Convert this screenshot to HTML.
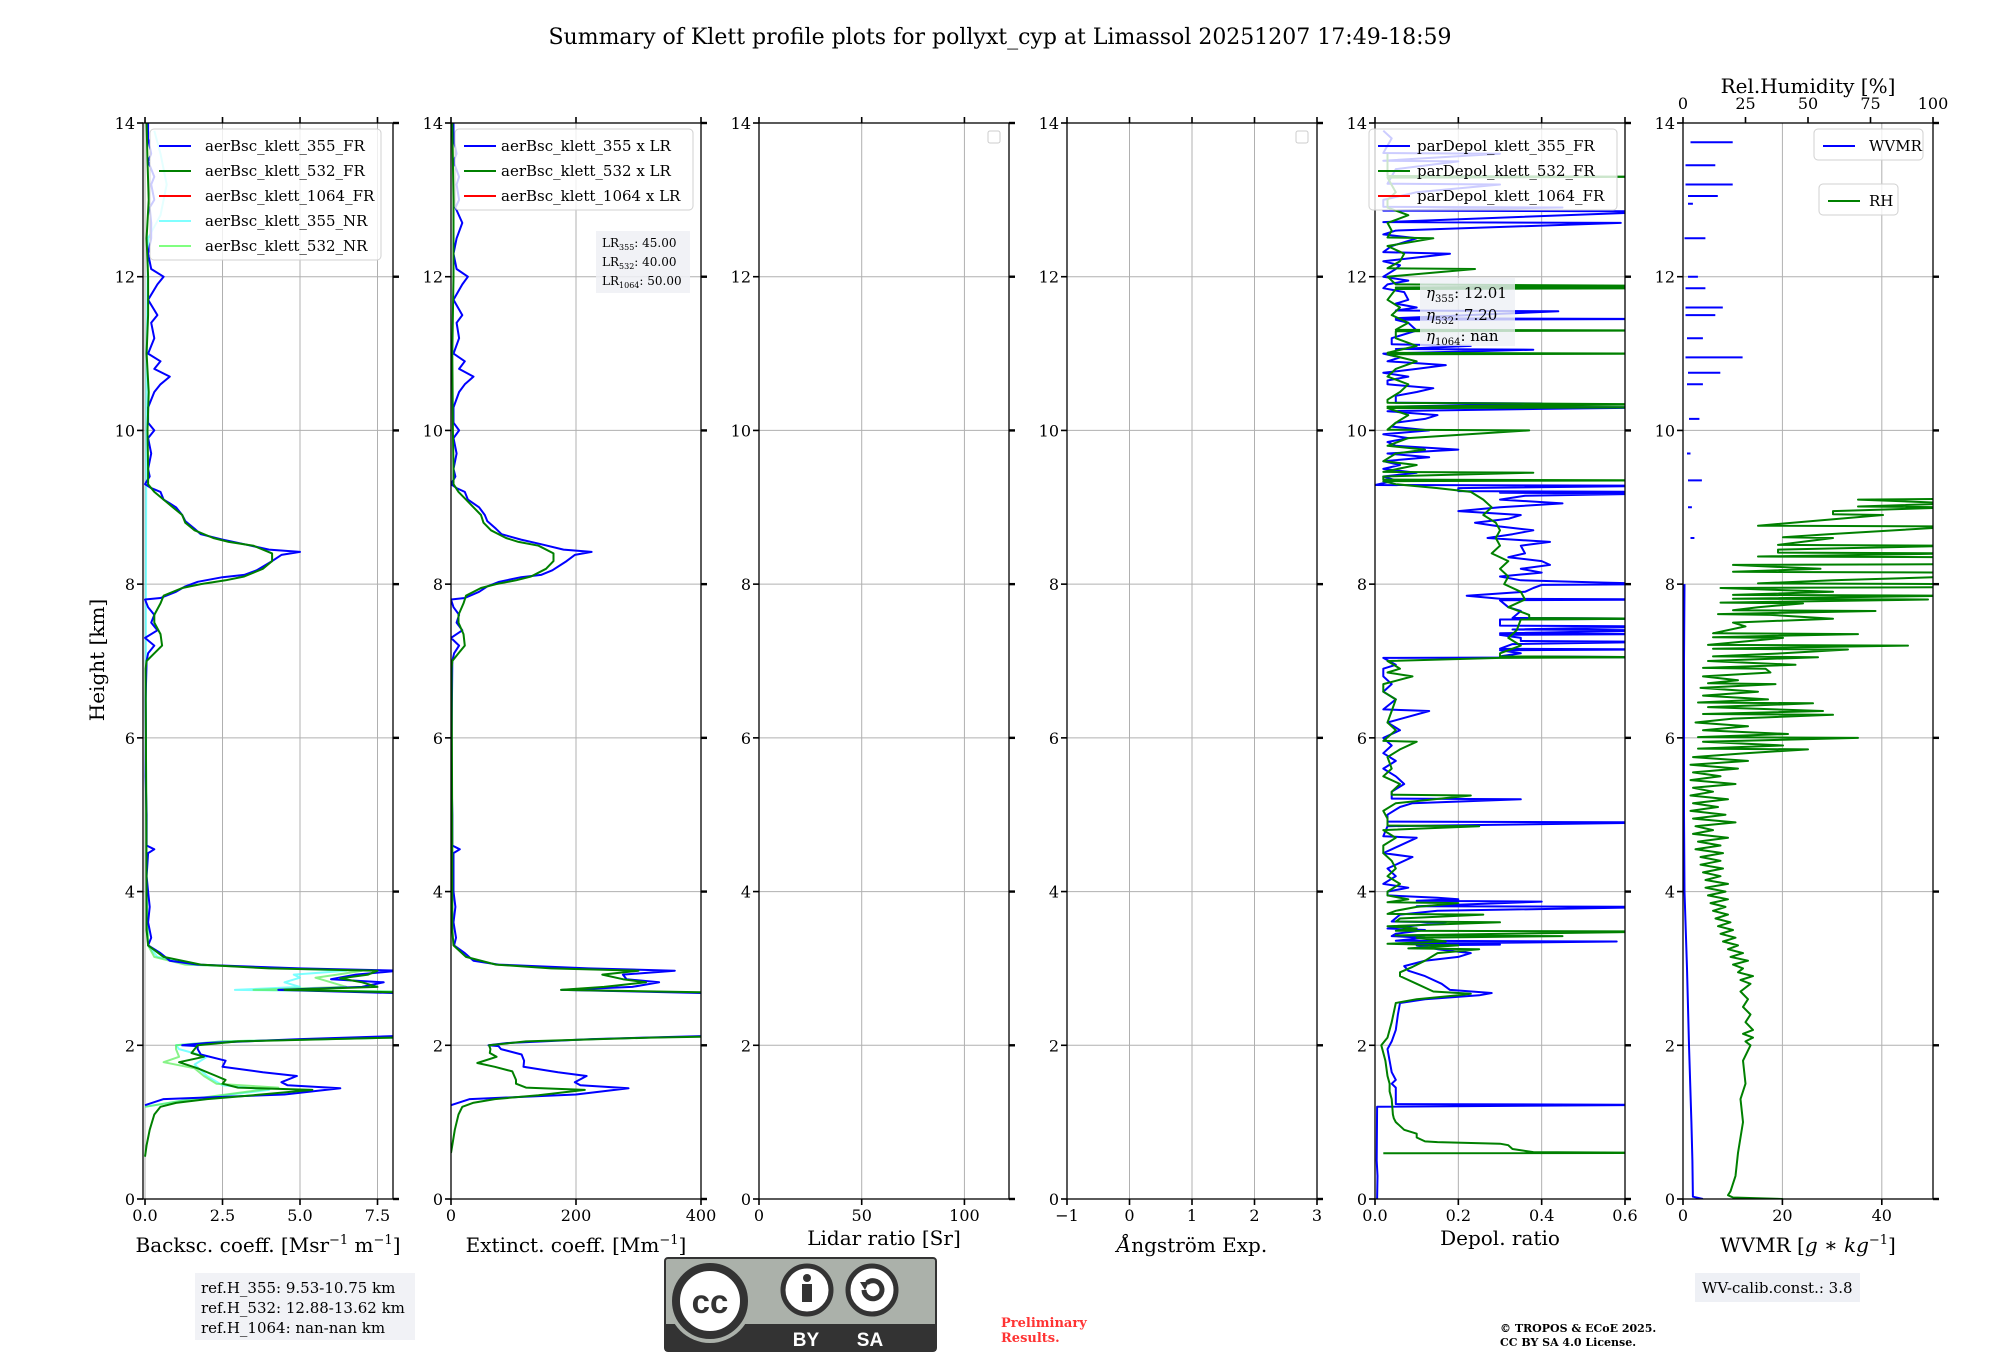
<!DOCTYPE html>
<html><head><meta charset="utf-8">
<style>
html,body{margin:0;padding:0;background:#fff;}
svg{display:block;font-family:"DejaVu Serif","Liberation Serif",serif;}
</style></head>
<body>
<svg id="fig" width="2000" height="1360" viewBox="0 0 2000 1360" xmlns="http://www.w3.org/2000/svg">
<rect width="2000" height="1360" fill="#fff"/>
<text x="1000" y="44" font-size="22" text-anchor="middle">Summary of Klett profile plots for pollyxt_cyp at Limassol 20251207 17:49-18:59</text>
<g id="panels"></g>
<text transform="translate(104,660) rotate(-90)" font-size="20" text-anchor="middle">Height [km]</text>

<g>
<rect x="195" y="1273" width="220" height="67" fill="#eef0f5" opacity="0.85"/>
<text x="201" y="1293" font-size="15">ref.H_355: 9.53-10.75 km</text>
<text x="201" y="1313" font-size="15">ref.H_532: 12.88-13.62 km</text>
<text x="201" y="1333" font-size="15">ref.H_1064: nan-nan km</text>
</g>

<g>
<rect x="665" y="1258" width="271" height="93" rx="3" fill="#abb1aa" stroke="#333" stroke-width="2"/>
<rect x="665" y="1324" width="271" height="27" fill="#333"/>
<circle cx="710" cy="1301" r="42" fill="#abb1aa"/>
<circle cx="710" cy="1301" r="34" fill="#fff" stroke="#333" stroke-width="8"/>
<text x="710" y="1313" font-family="Liberation Sans, sans-serif" font-weight="bold" font-size="33" text-anchor="middle" fill="#333">cc</text>
<circle cx="807" cy="1290" r="24" fill="#fff" stroke="#333" stroke-width="5"/>
<circle cx="807" cy="1278" r="4" fill="#333"/>
<rect x="802" y="1284" width="10" height="18" fill="#333"/>
<circle cx="872" cy="1290" r="24" fill="#fff" stroke="#333" stroke-width="5"/>
<path d="M864 1290 a9 9 0 1 0 3 -7" fill="none" stroke="#333" stroke-width="5"/>
<path d="M860 1282 l9 0 l-4 8 z" fill="#333"/>
<text x="806" y="1346" font-family="Liberation Sans, sans-serif" font-weight="bold" font-size="19" text-anchor="middle" fill="#fff">BY</text>
<text x="870" y="1346" font-family="Liberation Sans, sans-serif" font-weight="bold" font-size="19" text-anchor="middle" fill="#fff">SA</text>
</g>

<g fill="#ff3333" font-weight="bold" font-size="13">
<text x="1001" y="1327">Preliminary</text>
<text x="1001" y="1342">Results.</text>
</g>
<g font-weight="bold" font-size="11">
<text x="1500" y="1332">© TROPOS &amp; ECoE 2025.</text>
<text x="1500" y="1346">CC BY SA 4.0 License.</text>
</g>
<g>
<rect x="1695" y="1273" width="165" height="29" fill="#eef0f5"/>
<text x="1702" y="1293" font-size="15">WV-calib.const.: 3.8</text>
</g>
</svg>
<script>
// ---------- data ----------
const heightTicks = [0,2,4,6,8,10,12,14];
const bscTicks = [0,2.5,5,7.5];
const bscTickLabels = ["0.0","2.5","5.0","7.5"];
const extTicks = [0,200,400];
const lrTicks = [0,50,100];
const angTicks = [-1,0,1,2,3];
const angTickLabels = ["\u22121","0","1","2","3"];
const depTicks = [0,0.2,0.4,0.6];
const depTickLabels = ["0.0","0.2","0.4","0.6"];
const wvTicks = [0,20,40];
const rhTicks = [0,25,50,75,100];

const bsc355FR = [[1.22,0],[1.3,0.6],[1.36,4.5],[1.44,6.3],[1.48,4.6],[1.52,4.4],[1.6,4.9],[1.65,3.8],[1.72,2.5],[1.8,2.6],[1.88,1.8],[1.95,1.7],[1.99,1.7],[2.0,1.2],[2.03,2.0],[2.08,5.0],[2.12,8.0],[2.15,12],[2.65,12],[2.68,8.0],[2.72,4.3],[2.76,7.0],[2.82,7.7],[2.86,6.0],[2.92,6.8],[2.97,8.2],[3.0,5.0],[3.05,1.7],[3.1,0.8],[3.2,0.5],[3.3,0.1],[3.4,0.2],[3.6,0.1],[3.8,0.15],[4.0,0.1],[4.2,0.05],[4.5,0.1],[4.55,0.3],[4.6,0.05],[5.0,0.05],[5.5,0.02],[6.0,0.03],[6.5,0.02],[7.0,0.05],[7.1,0.1],[7.2,0.3],[7.3,0.0],[7.4,0.4],[7.5,0.2],[7.6,0.3],[7.7,0.1],[7.8,0.0],[7.82,0.5],[7.9,1.0],[7.97,1.3],[8.03,1.7],[8.09,2.5],[8.12,3.2],[8.18,3.6],[8.3,4.1],[8.38,4.4],[8.42,5.0],[8.45,4.0],[8.52,3.2],[8.58,2.5],[8.65,1.8],[8.72,1.6],[8.82,1.3],[8.9,1.2],[9.0,1.0],[9.05,0.8],[9.1,0.6],[9.2,0.5],[9.25,0.2],[9.3,0.0],[9.4,0.15],[9.5,0.1],[9.7,0.2],[9.9,0.1],[10.0,0.3],[10.1,0.1],[10.3,0.1],[10.5,0.3],[10.6,0.5],[10.7,0.8],[10.8,0.3],[10.9,0.5],[11.0,0.1],[11.2,0.3],[11.4,0.2],[11.5,0.4],[11.7,0.1],[11.9,0.4],[12.0,0.6],[12.1,0.2],[12.3,0.1],[12.5,0.2],[12.7,0.2],[12.9,0.15],[13.0,0.3],[13.2,0.2],[13.3,0.3],[13.5,0.1],[13.6,0.2],[13.8,0.1],[14.0,0.1]];
const bsc532FR = [[0.55,0],[0.7,0.05],[0.9,0.15],[1.1,0.3],[1.2,0.5],[1.25,1.0],[1.3,2.0],[1.35,3.5],[1.42,5.4],[1.45,3.0],[1.5,2.5],[1.55,2.6],[1.6,2.3],[1.7,1.7],[1.78,1.1],[1.85,1.9],[1.9,1.5],[1.95,1.6],[2.0,1.7],[2.05,3.0],[2.1,8.0],[2.13,12],[2.66,12],[2.69,8.0],[2.72,4.5],[2.76,7.5],[2.82,7.0],[2.87,6.3],[2.92,7.2],[2.97,7.5],[3.0,4.0],[3.05,1.8],[3.15,0.6],[3.3,0.1],[3.5,0.05],[4.0,0.05],[5.0,0.04],[6.0,0.03],[6.9,0.02],[7.0,0.05],[7.1,0.3],[7.2,0.55],[7.35,0.5],[7.5,0.3],[7.6,0.3],[7.75,0.5],[7.85,0.6],[7.95,1.2],[8.0,1.8],[8.05,2.6],[8.1,3.2],[8.2,3.8],[8.3,4.1],[8.4,4.1],[8.5,3.5],[8.55,2.7],[8.6,2.2],[8.7,1.6],[8.8,1.3],[8.9,1.2],[9.0,0.9],[9.1,0.6],[9.2,0.3],[9.3,0.1],[9.5,0.1],[10,0.08],[10.5,0.12],[11,0.05],[11.5,0.1],[12,0.1],[12.5,0.05],[13,0.12],[13.5,0.08],[14,0.05]];
const bsc355NR = [[1.2,0],[1.3,1.5],[1.42,4.0],[1.48,2.5],[1.6,2.0],[1.75,1.6],[1.85,2.0],[1.95,1.1],[2.0,1.0],[2.05,2.5],[2.1,8],[2.13,12],[2.67,12],[2.7,8],[2.72,2.9],[2.76,5.0],[2.82,4.5],[2.88,5.0],[2.92,4.8],[2.97,6.5],[3.05,1.5],[3.15,0.4],[3.2,0.3],[3.3,0.1],[4,0.05],[6,0.03],[8,0.03],[11,0.05],[12.5,0.1],[12.8,0.5],[13.2,0.7],[13.6,0.5],[13.9,0.3]];
const bsc532NR = [[1.2,0],[1.3,1.5],[1.45,4.3],[1.5,2.3],[1.6,1.9],[1.7,1.6],[1.78,0.6],[1.85,1.1],[1.95,1.0],[2.0,1.0],[2.05,2.5],[2.1,8],[2.13,12],[2.67,12],[2.7,8],[2.72,3.5],[2.76,6.5],[2.82,6.0],[2.88,5.5],[2.92,6.2],[2.97,7.0],[3.05,1.3],[3.15,0.3],[3.3,0.1],[4,0.04]];

const ext355 = [[1.22,0],[1.3,30],[1.36,200],[1.44,284],[1.48,207],[1.52,198],[1.6,217],[1.65,171],[1.72,116],[1.8,117],[1.88,113],[1.95,80],[1.99,76],[2.0,60],[2.03,90],[2.08,225],[2.12,400],[2.15,540],[2.65,540],[2.68,400],[2.72,177],[2.76,290],[2.82,333],[2.86,281],[2.92,275],[2.97,358],[3.0,220],[3.05,76],[3.1,36],[3.2,22],[3.3,5],[3.4,8],[3.6,4],[3.8,7],[4.0,4],[4.5,4],[4.55,14],[4.6,2],[5.0,2],[5.5,1],[6.0,1],[7.0,2],[7.1,5],[7.2,13],[7.3,0],[7.4,18],[7.5,9],[7.6,13],[7.7,4],[7.8,0],[7.82,22],[7.9,45],[7.97,58],[8.03,77],[8.09,112],[8.12,144],[8.18,162],[8.3,185],[8.38,198],[8.42,225],[8.45,180],[8.52,144],[8.58,112],[8.65,81],[8.72,72],[8.82,58],[8.9,54],[9.0,45],[9.05,36],[9.1,27],[9.2,22],[9.25,9],[9.3,0],[9.4,7],[9.5,4],[9.7,9],[9.9,4],[10.0,13],[10.1,4],[10.3,4],[10.5,13],[10.6,22],[10.7,36],[10.8,13],[10.9,22],[11.0,4],[11.2,13],[11.4,9],[11.5,18],[11.7,4],[11.9,18],[12.0,27],[12.1,9],[12.3,4],[12.5,9],[12.7,18],[12.9,7],[13.0,13],[13.2,9],[13.3,13],[13.5,4],[13.6,9],[13.8,4],[14.0,4]];
const ext532 = [[0.6,0],[0.7,2],[0.9,6],[1.1,12],[1.2,18],[1.25,35],[1.3,70],[1.35,140],[1.42,214],[1.45,120],[1.5,104],[1.55,104],[1.66,98],[1.72,70],[1.77,42],[1.85,73],[1.9,62],[1.95,63],[2.0,61],[2.05,120],[2.1,320],[2.13,540],[2.66,540],[2.69,400],[2.72,176],[2.76,245],[2.82,312],[2.86,275],[2.92,242],[2.97,300],[3.0,160],[3.05,72],[3.15,24],[3.3,4],[3.5,2],[4.5,2],[6.9,1],[7.0,2],[7.1,12],[7.2,22],[7.35,20],[7.5,12],[7.6,12],[7.75,20],[7.85,24],[7.95,48],[8.0,72],[8.05,104],[8.1,128],[8.2,152],[8.3,164],[8.4,164],[8.5,140],[8.55,108],[8.6,88],[8.7,64],[8.8,52],[8.9,48],[9.0,36],[9.1,24],[9.2,12],[9.3,4],[9.5,4],[10,3],[11,2],[12,4],[13,4],[14,2]];

const depol355 = [[0,0.005],[0.3,0.006],[0.5,0.004],[1.2,0.005],[1.225,0.7],[1.235,0.05],[1.35,0.05],[1.45,0.05],[1.5,0.04],[1.55,0.05],[1.65,0.04],[1.8,0.035],[1.95,0.03],[2.05,0.04],[2.2,0.05],[2.4,0.055],[2.55,0.06],[2.6,0.12],[2.65,0.25],[2.68,0.28],[2.72,0.18],[2.8,0.16],[2.9,0.12],[2.97,0.08],[3.03,0.07],[3.1,0.12],[3.15,0.2],[3.2,0.23],[3.25,0.15],[3.3,0.1],[3.31,0.3],[3.32,0.05],[3.35,0.58],[3.36,0.05],[3.4,0.12],[3.42,0.04],[3.45,0.05],[3.5,0.12],[3.52,0.03],[3.6,0.17],[3.61,0.04],[3.7,0.06],[3.75,0.15],[3.8,0.7],[3.81,0.1],[3.87,0.4],[3.88,0.1],[3.9,0.2],[3.92,0.15],[3.95,0.03],[4.0,0.03],[4.05,0.08],[4.1,0.02],[4.2,0.05],[4.3,0.03],[4.45,0.09],[4.5,0.02],[4.55,0.04],[4.7,0.1],[4.72,0.02],[4.85,0.03],[4.9,0.7],[4.91,0.03],[5.0,0.03],[5.1,0.06],[5.15,0.09],[5.2,0.35],[5.21,0.04],[5.3,0.04],[5.4,0.07],[5.5,0.05],[5.6,0.02],[5.7,0.05],[5.8,0.02],[5.9,0.04],[6.0,0.02],[6.1,0.06],[6.2,0.03],[6.35,0.13],[6.37,0.02],[6.5,0.05],[6.6,0.02],[6.7,0.04],[6.8,0.02],[6.9,0.02],[6.95,0.05],[7.04,0.02],[7.05,0.7],[7.06,0.3],[7.1,0.35],[7.14,0.3],[7.15,0.7],[7.16,0.3],[7.22,0.33],[7.25,0.7],[7.26,0.35],[7.3,0.35],[7.34,0.3],[7.35,0.7],[7.36,0.3],[7.4,0.7],[7.41,0.33],[7.45,0.7],[7.46,0.3],[7.5,0.3],[7.54,0.3],[7.55,0.7],[7.56,0.33],[7.65,0.35],[7.7,0.32],[7.79,0.3],[7.8,0.7],[7.81,0.3],[7.85,0.22],[7.9,0.36],[7.95,0.38],[7.99,0.4],[8.0,0.7],[8.02,0.55],[8.05,0.35],[8.1,0.3],[8.15,0.4],[8.2,0.35],[8.25,0.42],[8.3,0.4],[8.35,0.32],[8.4,0.36],[8.5,0.35],[8.55,0.42],[8.6,0.27],[8.65,0.33],[8.7,0.38],[8.75,0.3],[8.8,0.24],[8.85,0.32],[8.9,0.35],[8.95,0.2],[9.0,0.3],[9.05,0.45],[9.1,0.3],[9.15,0.36],[9.18,0.7],[9.19,0.3],[9.2,0.7],[9.21,0.2],[9.25,0.2],[9.28,0.7],[9.29,0.0],[9.35,0.05],[9.4,0.02],[9.45,0.1],[9.5,0.02],[9.55,0.06],[9.6,0.02],[9.65,0.13],[9.7,0.03],[9.75,0.2],[9.8,0.05],[9.85,0.03],[9.9,0.08],[9.95,0.02],[10.0,0.13],[10.05,0.04],[10.1,0.05],[10.15,0.12],[10.2,0.15],[10.25,0.03],[10.28,0.4],[10.3,0.7],[10.31,0.05],[10.35,0.4],[10.36,0.05],[10.45,0.05],[10.5,0.1],[10.55,0.14],[10.6,0.03],[10.65,0.03],[10.7,0.08],[10.75,0.02],[10.8,0.1],[10.85,0.17],[10.9,0.03],[10.95,0.06],[11.0,0.02],[11.05,0.38],[11.06,0.05],[11.1,0.23],[11.12,0.04],[11.2,0.04],[11.3,0.1],[11.4,0.08],[11.44,0.05],[11.45,0.7],[11.46,0.05],[11.55,0.44],[11.56,0.05],[11.6,0.1],[11.65,0.05],[11.7,0.08],[11.8,0.07],[11.85,0.02],[11.9,0.03],[11.95,0.08],[12.0,0.02],[12.1,0.05],[12.15,0.06],[12.2,0.02],[12.3,0.18],[12.32,0.02],[12.4,0.04],[12.5,0.1],[12.55,0.02],[12.6,0.05],[12.7,0.59],[12.71,0.02],[12.85,0.7],[12.86,0.02],[12.9,0.45],[12.91,0.02],[13.0,0.02],[13.1,0.1],[13.2,0.3],[13.21,0.03],[13.4,0.05],[13.5,0.2],[13.51,0.02],[13.6,0.3],[13.61,0.02],[13.8,0.04],[13.9,0.02]];
const depol532 = [[0.595,0.02],[0.6,0.7],[0.61,0.38],[0.65,0.33],[0.7,0.32],[0.72,0.3],[0.74,0.15],[0.75,0.12],[0.8,0.1],[0.85,0.1],[0.9,0.07],[1.0,0.05],[1.05,0.045],[1.1,0.043],[1.3,0.04],[1.4,0.035],[1.5,0.035],[1.6,0.03],[1.8,0.025],[2.0,0.015],[2.1,0.03],[2.3,0.04],[2.55,0.05],[2.6,0.1],[2.65,0.2],[2.67,0.23],[2.7,0.14],[2.8,0.1],[2.9,0.06],[2.95,0.06],[3.02,0.09],[3.1,0.12],[3.2,0.15],[3.25,0.25],[3.26,0.08],[3.3,0.2],[3.32,0.03],[3.35,0.17],[3.4,0.1],[3.42,0.45],[3.43,0.05],[3.48,0.7],[3.49,0.05],[3.52,0.1],[3.55,0.03],[3.6,0.3],[3.61,0.05],[3.65,0.06],[3.7,0.26],[3.71,0.03],[3.75,0.05],[3.8,0.1],[3.85,0.2],[3.86,0.03],[3.9,0.08],[3.95,0.03],[4.0,0.03],[4.1,0.06],[4.2,0.03],[4.3,0.05],[4.4,0.04],[4.5,0.02],[4.6,0.02],[4.7,0.05],[4.8,0.02],[4.85,0.25],[4.86,0.03],[4.95,0.03],[5.05,0.02],[5.15,0.05],[5.25,0.23],[5.26,0.04],[5.3,0.04],[5.4,0.06],[5.5,0.02],[5.6,0.04],[5.75,0.03],[5.85,0.06],[5.95,0.1],[5.96,0.02],[6.1,0.05],[6.2,0.03],[6.35,0.04],[6.5,0.05],[6.6,0.02],[6.7,0.02],[6.8,0.09],[6.85,0.03],[6.9,0.06],[7.0,0.03],[7.04,0.3],[7.05,0.7],[7.06,0.3],[7.1,0.3],[7.2,0.35],[7.3,0.32],[7.4,0.34],[7.54,0.35],[7.55,0.7],[7.56,0.37],[7.6,0.37],[7.7,0.32],[7.8,0.36],[7.9,0.35],[8.0,0.31],[8.1,0.32],[8.2,0.3],[8.3,0.32],[8.4,0.28],[8.5,0.3],[8.6,0.29],[8.7,0.3],[8.8,0.29],[8.9,0.26],[9.0,0.28],[9.1,0.26],[9.2,0.23],[9.25,0.15],[9.3,0.05],[9.34,0.02],[9.35,0.7],[9.36,0.02],[9.4,0.02],[9.45,0.38],[9.46,0.02],[9.55,0.1],[9.6,0.02],[9.7,0.05],[9.75,0.12],[9.8,0.03],[9.9,0.08],[10.0,0.37],[10.01,0.03],[10.1,0.05],[10.2,0.08],[10.29,0.03],[10.3,0.7],[10.31,0.03],[10.34,0.7],[10.36,0.03],[10.4,0.03],[10.5,0.06],[10.6,0.08],[10.7,0.03],[10.8,0.05],[10.9,0.1],[10.99,0.03],[11.0,0.7],[11.01,0.03],[11.1,0.1],[11.2,0.05],[11.29,0.05],[11.3,0.7],[11.31,0.05],[11.4,0.08],[11.5,0.04],[11.6,0.06],[11.7,0.03],[11.84,0.05],[11.85,0.7],[11.86,0.05],[11.88,0.7],[11.9,0.05],[12.0,0.03],[12.1,0.24],[12.11,0.03],[12.2,0.06],[12.3,0.07],[12.4,0.03],[12.5,0.14],[12.51,0.03],[12.6,0.04],[12.7,0.03],[12.8,0.08],[12.9,0.03],[13.0,0.03],[13.1,0.05],[13.29,0.03],[13.3,0.7],[13.31,0.03],[13.6,0.03]];

const wvmr = [[0,4],[0.03,2],[0.5,1.9],[1,1.7],[2,1.2],[3,0.8],[4,0.3],[5,0.2],[6,0.2],[7,0.2],[8,0.3],null,[8.6,1.5],[8.6,2.3],null,[9.0,1.0],[9.0,1.8],null,[9.35,1.0],[9.35,3.8],null,[9.7,0.8],[9.7,1.5],null,[10.15,1.2],[10.15,3.3],null,[10.6,0.8],[10.6,4],null,[10.75,1],[10.75,7.5],null,[10.95,0.5],[10.95,12],null,[11.2,0.8],[11.2,4],null,[11.5,0.5],[11.5,6.5],null,[11.6,0.5],[11.6,8],null,[11.85,0.5],[11.85,4.5],null,[12.0,1],[12.0,3],null,[12.5,0.3],[12.5,4.5],null,[12.95,1],[12.95,2],null,[13.05,1],[13.05,7],null,[13.2,0.5],[13.2,10],null,[13.45,0.5],[13.45,6.5],null,[13.75,1.5],[13.75,10]];
const rh = [[0,40],[0.02,20],[0.05,18],[0.1,19],[0.3,21],[0.6,22],[1.0,24],[1.3,23],[1.5,25],[1.8,24],[2.0,27],[2.05,25],[2.1,28],[2.15,24],[2.2,28],[2.3,25],[2.4,27],[2.5,24],[2.6,26],[2.7,23],[2.8,27],[2.85,23],[2.9,28],[2.95,22],[3.0,24],[3.05,20],[3.1,26],[3.15,19],[3.2,24],[3.25,18],[3.3,22],[3.35,16],[3.4,21],[3.45,15],[3.5,20],[3.55,14],[3.6,19],[3.65,13],[3.7,18],[3.75,12],[3.8,17],[3.85,11],[3.9,18],[3.95,10],[4.0,17],[4.05,9],[4.1,18],[4.15,9],[4.2,15],[4.25,8],[4.3,16],[4.35,7],[4.4,15],[4.45,7],[4.5,16],[4.55,5],[4.6,15],[4.65,6],[4.7,18],[4.75,4],[4.8,12],[4.85,5],[4.9,21],[4.95,4],[5.0,17],[5.05,3],[5.1,14],[5.15,4],[5.2,18],[5.25,3],[5.3,12],[5.35,4],[5.4,21],[5.45,3],[5.5,15],[5.55,4],[5.6,22],[5.65,3],[5.7,26],[5.75,4],[5.8,25],[5.85,50],[5.86,6],[5.9,40],[5.95,8],[6.0,70],[6.01,6],[6.05,42],[6.1,8],[6.15,26],[6.2,5],[6.25,20],[6.3,60],[6.31,8],[6.35,56],[6.4,10],[6.45,52],[6.46,6],[6.5,34],[6.55,8],[6.6,30],[6.65,7],[6.7,37],[6.71,10],[6.75,22],[6.8,8],[6.85,35],[6.9,33],[6.91,8],[6.95,45],[7.0,10],[7.05,54],[7.06,12],[7.1,40],[7.15,66],[7.16,12],[7.2,90],[7.21,10],[7.3,40],[7.31,12],[7.35,70],[7.36,12],[7.45,25],[7.5,20],[7.55,60],[7.6,35],[7.61,14],[7.65,77],[7.66,20],[7.7,30],[7.75,48],[7.76,15],[7.8,98],[7.81,20],[7.85,110],[7.86,20],[7.9,60],[7.95,15],[7.96,110],[8.0,110],[8.01,30],[8.05,60],[8.1,110],[8.15,110],[8.16,20],[8.2,55],[8.25,20],[8.26,110],[8.3,110],[8.35,110],[8.36,30],[8.4,110],[8.41,38],[8.45,38],[8.5,110],[8.51,38],[8.6,60],[8.61,40],[8.65,58],[8.75,110],[8.76,30],[8.9,80],[8.91,60],[8.95,60],[9.0,110],[9.01,70],[9.05,110],[9.1,70],[9.11,110]];

// ---------- layout ----------
const NS = "http://www.w3.org/2000/svg";
const TOP = 123, BOT = 1199, W = 250;
const LEFTS = [143, 451, 759, 1067, 1375, 1683];
const panelsG = document.getElementById('panels');
function el(tag, attrs, parent){ const e=document.createElementNS(NS,tag); for(const k in attrs) e.setAttribute(k,attrs[k]); (parent||panelsG).appendChild(e); return e; }
function yScale(h){ return BOT - (h/14)*(BOT-TOP); }
function xScaleFor(i,min,max){ const L=LEFTS[i]; return v => L + (v-min)/(max-min)*W; }

function drawAxes(i, xs, ticks){
  const L=LEFTS[i];
  const g = el('g',{});
  
  
  ticks.forEach(t=>{ const x=xs(t); el('line',{x1:x,x2:x,y1:TOP,y2:BOT,stroke:'#b0b0b0','stroke-width':1},g); });
  heightTicks.forEach(h=>{ const y=yScale(h); el('line',{x1:L,x2:L+W,y1:y,y2:y,stroke:'#b0b0b0','stroke-width':1},g); });
  return g;
}
function drawFrame(i, xs, ticks, labels, topTicks){
  const L=LEFTS[i];
  const g = el('g',{});
  
  
  el('rect',{x:L,y:TOP,width:W,height:BOT-TOP,fill:'none',stroke:'#000','stroke-width':1.3},g);
  heightTicks.forEach(h=>{ const y=yScale(h);
    el('line',{x1:L-6,x2:L,y1:y,y2:y,stroke:'#000','stroke-width':1.6},g);
    el('line',{x1:L+W,x2:L+W+6,y1:y,y2:y,stroke:'#000','stroke-width':2.4},g);
    const t=el('text',{x:L-8,y:y+6,'font-size':16,'text-anchor':'end'},g); t.textContent=h;
    
    
  });
  ticks.forEach((v,k)=>{ const x=xs(v);
    el('line',{x1:x,x2:x,y1:BOT,y2:BOT+6,stroke:'#000','stroke-width':1.6},g);
    if(!topTicks) el('line',{x1:x,x2:x,y1:TOP-6,y2:TOP,stroke:'#000','stroke-width':1.6},g);
    const t=el('text',{x:x,y:BOT+22,'font-size':16,'text-anchor':'middle'},g); t.textContent=labels[k];
    
    
  });
  return g;
}
function drawSeries(i, xs, data, color, width, opacity, name){
  let d='', pen=false;
  data.forEach(p=>{
    if(p===null){ pen=false; return; }
    d += (pen?'L':'M') + xs(p[1]).toFixed(1) + ' ' + yScale(p[0]).toFixed(1);
    pen=true;
  });
  const path = el('path',{d:d,fill:'none',stroke:color,'stroke-width':width,'stroke-opacity':opacity,'stroke-linejoin':'round','clip-path':'url(#clip'+i+')'});
  
  
  return path;
}
function legend(x,y,w,entries,fs,textOffset){
  const rowH = 25;
  const g = el('g',{});
  
  
  el('rect',{x:x,y:y,width:w,height:entries.length*rowH+6,rx:4,fill:'#fff','fill-opacity':0.8,stroke:'#d0d0d0','stroke-width':1},g);
  entries.forEach((e,k)=>{ const cy=y+17+k*rowH;
    el('line',{x1:x+9,x2:x+41,y1:cy,y2:cy,stroke:e[1],'stroke-width':2},g);
    const t=el('text',{x:x+textOffset,y:cy+5,'font-size':fs},g); t.textContent=e[0];
    
    
  });
}

// clip paths
const defs = el('defs',{});
LEFTS.forEach((L,i)=>{ const c=el('clipPath',{id:'clip'+i},defs); el('rect',{x:L,y:TOP,width:W,height:BOT-TOP},c); });

// Panel 1
const x1 = xScaleFor(0,-0.065,8.0);
drawAxes(0,x1,bscTicks);
drawSeries(0,x1,bsc355NR,'#44ffff',2,0.7,'bsc-355-nr-line');
drawSeries(0,x1,bsc532NR,'#55ee55',2,0.7,'bsc-532-nr-line');
drawSeries(0,x1,bsc355FR,'#0000ff',2,1,'bsc-355-fr-line');
drawSeries(0,x1,bsc532FR,'#008000',2,1,'bsc-532-fr-line');
drawFrame(0,x1,bscTicks,bscTickLabels);
legend(150,129,231,[['aerBsc_klett_355_FR','#0000ff'],['aerBsc_klett_532_FR','#008000'],['aerBsc_klett_1064_FR','#ff0000'],['aerBsc_klett_355_NR','#80ffff'],['aerBsc_klett_532_NR','#80ff80']],15,55);

// Panel 2
const x2 = xScaleFor(1,0,400);
drawAxes(1,x2,extTicks);
drawSeries(1,x2,ext355,'#0000ff',2,1,'ext-355-line');
drawSeries(1,x2,ext532,'#008000',2,1,'ext-532-line');
drawFrame(1,x2,extTicks,extTicks.map(String));
legend(455,129,238,[['aerBsc_klett_355 x LR','#0000ff'],['aerBsc_klett_532 x LR','#008000'],['aerBsc_klett_1064 x LR','#ff0000']],15,46);

// Panel 3
const x3 = xScaleFor(2,0,121.7);
drawAxes(2,x3,lrTicks);
drawFrame(2,x3,lrTicks,lrTicks.map(String));
el('rect',{x:988,y:131,width:12,height:12,rx:2,fill:'#fff',stroke:'#ccc'});

// Panel 4
const x4 = xScaleFor(3,-1,3);
drawAxes(3,x4,angTicks);
drawFrame(3,x4,angTicks,angTickLabels);
el('rect',{x:1296,y:131,width:12,height:12,rx:2,fill:'#fff',stroke:'#ccc'});

// Panel 5
const x5 = xScaleFor(4,0,0.6);
drawAxes(4,x5,depTicks);
drawSeries(4,x5,depol355,'#0000ff',2,1,'depol-355-line');
drawSeries(4,x5,depol532,'#008000',2,1,'depol-532-line');
drawFrame(4,x5,depTicks,depTickLabels);
legend(1369,129,248,[['parDepol_klett_355_FR','#0000ff'],['parDepol_klett_532_FR','#008000'],['parDepol_klett_1064_FR','#ff0000']],15,48);

// Panel 6
const x6 = xScaleFor(5,0,50.3);
const x6rh = xScaleFor(5,0,100);
drawAxes(5,x6,wvTicks);
drawSeries(5,x6,wvmr,'#0000ff',2,1,'wvmr-line');
drawSeries(5,x6rh,rh,'#008000',2,1,'rh-line');
drawFrame(5,x6,wvTicks,wvTicks.map(String),true);
rhTicks.forEach(v=>{ const x=x6rh(v);
  el('line',{x1:x,x2:x,y1:TOP-6,y2:TOP,stroke:'#000','stroke-width':1.6});
  const t=el('text',{x:x,y:TOP-14,'font-size':16,'text-anchor':'middle'}); t.textContent=v;
  
  
});
legend(1814,129,109,[['WVMR','#0000ff']],15,55);
legend(1819,184,79,[['RH','#008000']],15,50);

// Text boxes inside panels
(function(){
  const g=el('g',{});  
  el('rect',{x:596,y:231,width:94,height:62,fill:'#eef0f5','fill-opacity':0.85},g);
  [['LR','355',': 45.00',247],['LR','532',': 40.00',266],['LR','1064',': 50.00',285]].forEach(r=>{
    const t=el('text',{x:602,y:r[3],'font-size':12},g);
    t.innerHTML = r[0]+'<tspan font-size="8" dy="3">'+r[1]+'</tspan><tspan dy="-3">'+r[2]+'</tspan>';
  });
  const g2=el('g',{});  
  el('rect',{x:1420,y:278,width:95,height:68,fill:'#eef0f5','fill-opacity':0.8},g2);
  [['355',': 12.01',298],['532',': 7.20',320],['1064',': nan',341]].forEach(r=>{
    const t=el('text',{x:1426,y:r[2],'font-size':15},g2);
    t.innerHTML = '<tspan font-style="italic">η</tspan><tspan font-size="10" dy="4">'+r[0]+'</tspan><tspan dy="-4">'+r[1]+'</tspan>';
  });
})();

// axis labels
const xl = [
 [LEFTS[0]+W/2,1252,'Backsc. coeff. [Msr<tspan font-size="13" dy="-8">−1</tspan><tspan dy="8"> m</tspan><tspan font-size="13" dy="-8">−1</tspan><tspan dy="8">]</tspan>','bsc-x-axis-title'],
 [LEFTS[1]+W/2,1252,'Extinct. coeff. [Mm<tspan font-size="13" dy="-8">−1</tspan><tspan dy="8">]</tspan>','ext-x-axis-title'],
 [LEFTS[2]+W/2,1245,'Lidar ratio [Sr]','lr-x-axis-title'],
 [LEFTS[3]+W/2,1252,'<tspan font-style="italic">Å</tspan>ngström Exp.','angstrom-x-axis-title'],
 [LEFTS[4]+W/2,1245,'Depol. ratio','depol-x-axis-title'],
 [LEFTS[5]+W/2,1252,'WVMR [<tspan font-style="italic">g</tspan> ∗ <tspan font-style="italic">kg</tspan><tspan font-size="13" dy="-8">−1</tspan><tspan dy="8">]</tspan>','wvmr-x-axis-title']
];
xl.forEach(a=>{ const t=el('text',{x:a[0],y:a[1],'font-size':20,'text-anchor':'middle'}); t.innerHTML=a[2];
  
  
});
const rt=el('text',{x:LEFTS[5]+W/2,y:93,'font-size':20,'text-anchor':'middle'}); rt.textContent='Rel.Humidity [%]';


</script>
</body></html>
